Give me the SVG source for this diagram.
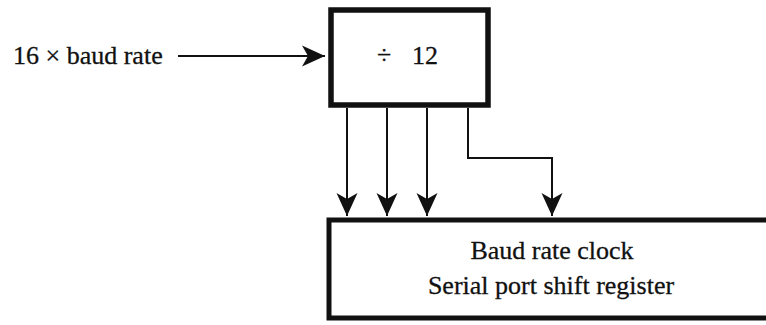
<svg xmlns="http://www.w3.org/2000/svg" width="766" height="325" viewBox="0 0 766 325">
<style>
.t{font-family:"Liberation Serif","Times New Roman",serif;font-size:26px;fill:#111;stroke:#111;stroke-width:0.3}
.box{fill:#fff;stroke:#111;stroke-width:5.5}
.c{fill:none;stroke:#111;stroke-width:2}
</style>
<defs>
<marker id="ah" markerUnits="userSpaceOnUse" markerWidth="26" markerHeight="24" viewBox="-24 -12 26 24" refX="0" refY="0" orient="auto">
<path d="M0,0 L-23,-10.5 L-17,0 L-23,10.5 Z" fill="#111"/>
</marker>
</defs>
<rect width="766" height="325" fill="#fff"/>
<g id="input-label">
<text class="t" x="13" y="64">16 × baud rate</text>
</g>
<g id="divider">
<rect class="box" x="331" y="10" width="157" height="95"/>
<text class="t" x="377" y="64" font-size="28">÷<tspan x="412" font-size="26">12</tspan></text>
</g>
<g id="register">
<path d="M766,220 H329 V318 H766" fill="#fff" stroke="#111" stroke-width="5"/>
<text class="t" x="552" y="259" text-anchor="middle">Baud rate clock</text>
<text class="t" x="551" y="294" text-anchor="middle" font-size="26.8">Serial port shift register</text>
</g>
<g id="connectors">
<path class="c" d="M178,56 H325" marker-end="url(#ah)"/>
<path class="c" d="M347,108 V216" marker-end="url(#ah)"/>
<path class="c" d="M387,108 V216" marker-end="url(#ah)"/>
<path class="c" d="M427,108 V216" marker-end="url(#ah)"/>
<path class="c" d="M468,108 V158 H552 V216" marker-end="url(#ah)"/>
</g>
</svg>
